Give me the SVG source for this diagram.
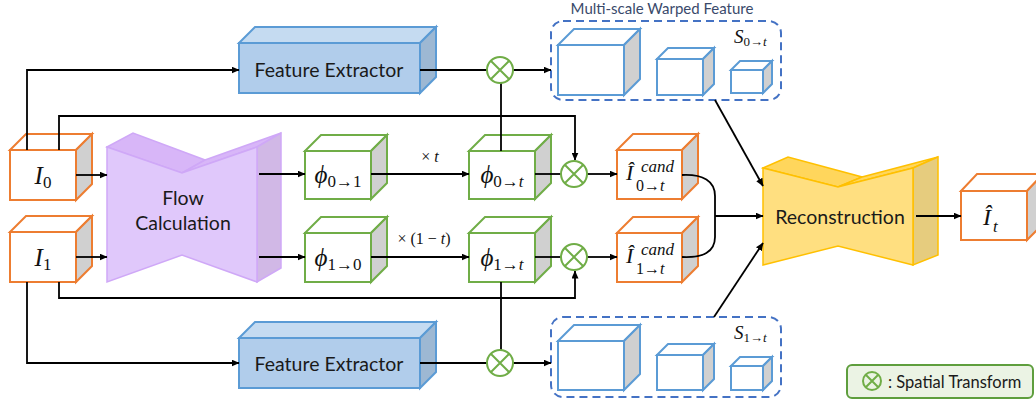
<svg xmlns="http://www.w3.org/2000/svg" width="1036" height="404" viewBox="0 0 1036 404">
  <defs>
    <marker id="arr" markerWidth="8" markerHeight="7" refX="7.5" refY="3.5" orient="auto" markerUnits="userSpaceOnUse">
      <path d="M0,0 L8,3.5 L0,7 Z" fill="#000"/>
    </marker>
    <style>
      .front{fill:#fff;stroke-width:2;stroke-linejoin:miter}
      .side{fill:#d0d0d0;stroke-width:2}
      .top{fill:#fff;stroke-width:2}
      .org{stroke:#ed7d31}
      .grn{stroke:#70ad47}
      .blu{stroke:#5b9bd5}
      .fe-front{fill:#b1cdeb;stroke:#5b9bd5;stroke-width:2}
      .fe-top{fill:#c5dbf1;stroke:#5b9bd5;stroke-width:2}
      .fe-side{fill:#9db8d3;stroke:#5b9bd5;stroke-width:2}
      .fl-front{fill:#e0c8fb;stroke:#cfa8f7;stroke-width:1.5}
      .fl-top{fill:#d8b6f8;stroke:#cfa8f7;stroke-width:1.5}
      .fl-side{fill:#d1b8e6;stroke:#cfa8f7;stroke-width:1.5}
      .rc-front{fill:#ffdf80;stroke:#ffc000;stroke-width:1.5}
      .rc-top{fill:#ffd65c;stroke:#ffc000;stroke-width:1.5}
      .rc-side{fill:#e6cc7e;stroke:#ffc000;stroke-width:1.5}
      .lbl{font-family:Lato,"Liberation Sans",sans-serif;font-size:19.5px;fill:#1a1a1a;text-anchor:middle}
      .math{font-family:"Liberation Serif","DejaVu Serif",serif;fill:#111}
      .it{font-style:italic}
      .conn{fill:none;stroke:#000;stroke-width:1.8}
      .dash{fill:none;stroke:#4472c4;stroke-width:2;stroke-dasharray:8 5}
      .otc{fill:#fff;stroke:#70ad47;stroke-width:2}
      .otx{stroke:#70ad47;stroke-width:2}
    </style>
  </defs>

  <!-- input frames -->
  <g id="I0">
    <polygon class="top org" points="10,150 26,134 92,134 76,150"/>
    <polygon class="side org" points="76,150 92,134 92,184 76,200"/>
    <rect class="front org" x="10" y="150" width="66" height="50"/>
    <text class="math" x="43" y="184" text-anchor="middle"><tspan class="it" font-size="25">I</tspan><tspan font-size="17" dy="4">0</tspan></text>
  </g>
  <g id="I1">
    <polygon class="top org" points="10,232 26,216 92,216 76,232"/>
    <polygon class="side org" points="76,232 92,216 92,266 76,282"/>
    <rect class="front org" x="10" y="232" width="66" height="50"/>
    <text class="math" x="43" y="266" text-anchor="middle"><tspan class="it" font-size="25">I</tspan><tspan font-size="17" dy="4">1</tspan></text>
  </g>

  <!-- feature extractors -->
  <g id="fe-top">
    <polygon class="fe-top" points="239,43 255,27 436,27 420,43"/>
    <polygon class="fe-side" points="420,43 436,27 436,77 420,93"/>
    <rect class="fe-front" x="239" y="43" width="181" height="50"/>
    <text class="lbl" x="329" y="77">Feature Extractor</text>
  </g>
  <g id="fe-bottom">
    <polygon class="fe-top" points="239,338 255,322 436,322 420,338"/>
    <polygon class="fe-side" points="420,338 436,322 436,372 420,388"/>
    <rect class="fe-front" x="239" y="338" width="181" height="50"/>
    <text class="lbl" x="329" y="371">Feature Extractor</text>
  </g>

  <!-- flow estimation network -->
  <g id="flow">
    <polygon class="fl-top" points="107,147 133,133 205,160 182,173"/>
    <polygon class="fl-top" points="182,173 205,160 281,133 257,147"/>
    <polygon class="fl-side" points="257,147 281,133 281,268 257,282"/>
    <polygon class="fl-front" points="107,147 182,173 257,147 257,282 182,255 107,282"/>
    <text class="lbl" x="183" y="205">Flow</text>
    <text class="lbl" x="183" y="230">Calculation</text>
  </g>

  <!-- optical flows -->
  <g id="phi01">
    <polygon class="top grn" points="305,151 321,135 387,135 371,151"/>
    <polygon class="side grn" points="371,151 387,135 387,183 371,199"/>
    <rect class="front grn" x="305" y="151" width="66" height="48"/>
    <text class="math" x="338" y="183" text-anchor="middle"><tspan class="it" font-size="25">ϕ</tspan><tspan font-size="17" dy="4">0→1</tspan></text>
  </g>
  <g id="phi0t">
    <polygon class="top grn" points="469,151 485,135 551,135 535,151"/>
    <polygon class="side grn" points="535,151 551,135 551,183 535,199"/>
    <rect class="front grn" x="469" y="151" width="66" height="48"/>
    <text class="math" x="502" y="183" text-anchor="middle"><tspan class="it" font-size="25">ϕ</tspan><tspan font-size="17" dy="4">0→</tspan><tspan class="it" font-size="17">t</tspan></text>
  </g>
  <g id="phi10">
    <polygon class="top grn" points="305,233 321,217 387,217 371,233"/>
    <polygon class="side grn" points="371,233 387,217 387,266 371,282"/>
    <rect class="front grn" x="305" y="233" width="66" height="49"/>
    <text class="math" x="338" y="266" text-anchor="middle"><tspan class="it" font-size="25">ϕ</tspan><tspan font-size="17" dy="4">1→0</tspan></text>
  </g>
  <g id="phi1t">
    <polygon class="top grn" points="469,233 485,217 551,217 535,233"/>
    <polygon class="side grn" points="535,233 551,217 551,266 535,282"/>
    <rect class="front grn" x="469" y="233" width="66" height="49"/>
    <text class="math" x="502" y="266" text-anchor="middle"><tspan class="it" font-size="25">ϕ</tspan><tspan font-size="17" dy="4">1→</tspan><tspan class="it" font-size="17">t</tspan></text>
  </g>

  <!-- candidate frames -->
  <g id="cand0">
    <polygon class="top org" points="617,150 633,134 698,134 682,150"/>
    <polygon class="side org" points="682,150 698,134 698,183 682,199"/>
    <rect class="front org" x="617" y="150" width="65" height="49"/>
    <text class="math it" x="626" y="180" font-size="22">Î</text>
    <text class="math it" x="641" y="172" font-size="17">cand</text>
    <text class="math" x="636" y="191" font-size="16">0→<tspan class="it">t</tspan></text>
  </g>
  <g id="cand1">
    <polygon class="top org" points="617,233 633,217 698,217 682,233"/>
    <polygon class="side org" points="682,233 698,217 698,266 682,282"/>
    <rect class="front org" x="617" y="233" width="65" height="49"/>
    <text class="math it" x="626" y="263" font-size="22">Î</text>
    <text class="math it" x="641" y="255" font-size="17">cand</text>
    <text class="math" x="636" y="274" font-size="16">1→<tspan class="it">t</tspan></text>
  </g>

  <!-- multi-scale warped features -->
  <g id="ms-top">
    <text x="662" y="14" font-family="Lato,'Liberation Sans',sans-serif" font-size="15" fill="#3a4a6b" text-anchor="middle">Multi-scale Warped Feature</text>
    <rect class="dash" x="551" y="21" width="230" height="79" rx="12"/>
    <polygon class="top blu" points="558,45 574,29 640,29 624,45"/>
    <polygon class="side blu" points="624,45 640,29 640,79 624,95"/>
    <rect class="front blu" x="558" y="45" width="66" height="50"/>
    <polygon class="top blu" points="657,59 668,48 714,48 703,59"/>
    <polygon class="side blu" points="703,59 714,48 714,84 703,95"/>
    <rect class="front blu" x="657" y="59" width="46" height="36"/>
    <polygon class="top blu" points="731,70 740,61 772,61 763,70"/>
    <polygon class="side blu" points="763,70 772,61 772,84 763,93"/>
    <rect class="front blu" x="731" y="70" width="32" height="23"/>
    <text class="math" x="734" y="43" font-size="19" fill="#333"><tspan class="it">S</tspan><tspan font-size="13" dy="3">0→</tspan><tspan class="it" font-size="13">t</tspan></text>
  </g>
  <g id="ms-bottom">
    <rect class="dash" x="551" y="317" width="230" height="80" rx="12"/>
    <polygon class="top blu" points="558,341 574,325 640,325 624,341"/>
    <polygon class="side blu" points="624,341 640,325 640,374 624,390"/>
    <rect class="front blu" x="558" y="341" width="66" height="49"/>
    <polygon class="top blu" points="657,355 668,344 714,344 703,355"/>
    <polygon class="side blu" points="703,355 714,344 714,379 703,390"/>
    <rect class="front blu" x="657" y="355" width="46" height="35"/>
    <polygon class="top blu" points="731,366 740,357 772,357 763,366"/>
    <polygon class="side blu" points="763,366 772,357 772,381 763,390"/>
    <rect class="front blu" x="731" y="366" width="32" height="24"/>
    <text class="math" x="734" y="339" font-size="19" fill="#333"><tspan class="it">S</tspan><tspan font-size="13" dy="3">1→</tspan><tspan class="it" font-size="13">t</tspan></text>
  </g>

  <!-- reconstruction network -->
  <g id="recon">
    <polygon class="rc-top" points="763,168 788,157 862,177 838,187"/>
    <polygon class="rc-top" points="838,187 862,177 938,157 913,168"/>
    <polygon class="rc-side" points="913,168 938,157 938,255 913,265"/>
    <polygon class="rc-front" points="763,168 838,187 913,168 913,265 838,246 763,265"/>
    <text class="lbl" x="840" y="224">Reconstruction</text>
  </g>

  <!-- output frame -->
  <g id="It">
    <polygon class="top org" points="961,191 977,174 1043,174 1027,191"/>
    <polygon class="side org" points="1027,191 1043,174 1043,224 1027,240"/>
    <rect class="front org" x="961" y="191" width="66" height="49"/>
    <text class="math it" x="983" y="225" font-size="24">Î</text>
    <text class="math it" x="993" y="232" font-size="17">t</text>
  </g>

  <!-- connectors -->
  <g id="connectors">
    <polyline class="conn" points="27,150 27,70 239,70" marker-end="url(#arr)"/>
    <polyline class="conn" points="59,150 59,116 575,116 575,160" marker-end="url(#arr)"/>
    <polyline class="conn" points="27,282 27,363 239,363" marker-end="url(#arr)"/>
    <polyline class="conn" points="59,282 59,298 575,298 575,271" marker-end="url(#arr)"/>
    <line class="conn" x1="76" y1="175" x2="107" y2="175" marker-end="url(#arr)"/>
    <line class="conn" x1="76" y1="257" x2="107" y2="257" marker-end="url(#arr)"/>
    <line class="conn" x1="259" y1="174" x2="305" y2="174" marker-end="url(#arr)"/>
    <line class="conn" x1="259" y1="257" x2="305" y2="257" marker-end="url(#arr)"/>
    <line class="conn" x1="371" y1="174" x2="469" y2="174" marker-end="url(#arr)"/>
    <line class="conn" x1="371" y1="257" x2="469" y2="257" marker-end="url(#arr)"/>
    <line class="conn" x1="535" y1="174" x2="561" y2="174"/>
    <line class="conn" x1="535" y1="257" x2="561" y2="257"/>
    <line class="conn" x1="587" y1="174" x2="617" y2="174" marker-end="url(#arr)"/>
    <line class="conn" x1="587" y1="257" x2="617" y2="257" marker-end="url(#arr)"/>
    <line class="conn" x1="420" y1="70" x2="487" y2="70"/>
    <line class="conn" x1="420" y1="363" x2="487" y2="363"/>
    <line class="conn" x1="513" y1="70" x2="551" y2="70" marker-end="url(#arr)"/>
    <line class="conn" x1="513" y1="363" x2="551" y2="363" marker-end="url(#arr)"/>
    <line class="conn" x1="501" y1="151" x2="501" y2="83"/>
    <line class="conn" x1="501" y1="282" x2="501" y2="350"/>
    <path class="conn" d="M682,175 C703,174 715,181 715,196 V237 C715,252 703,258 682,257"/>
    <line class="conn" x1="715" y1="216" x2="763" y2="216" marker-end="url(#arr)"/>
    <line class="conn" x1="715" y1="100" x2="763" y2="186" marker-end="url(#arr)"/>
    <line class="conn" x1="714" y1="317" x2="763" y2="243" marker-end="url(#arr)"/>
    <line class="conn" x1="916" y1="216" x2="961" y2="216" marker-end="url(#arr)"/>
    <text x="430" y="162" font-family="'Liberation Serif',serif" font-size="16" fill="#111" text-anchor="middle">× <tspan font-style="italic">t</tspan></text>
    <text x="424" y="244" font-family="'Liberation Serif',serif" font-size="16" fill="#111" text-anchor="middle">× (1 − <tspan font-style="italic">t</tspan>)</text>
  </g>

  <!-- spatial transform operators -->
  <g id="st-fe0">
    <circle class="otc" cx="500" cy="70" r="13"/>
    <path class="otx" d="M491,61 L509,79 M509,61 L491,79"/>
  </g>
  <g id="st-fe1">
    <circle class="otc" cx="500" cy="363" r="13"/>
    <path class="otx" d="M491,354 L509,372 M509,354 L491,372"/>
  </g>
  <g id="st-img0">
    <circle class="otc" cx="574" cy="174" r="13"/>
    <path class="otx" d="M565,165 L583,183 M583,165 L565,183"/>
  </g>
  <g id="st-img1">
    <circle class="otc" cx="574" cy="257" r="13"/>
    <path class="otx" d="M565,248 L583,266 M583,248 L565,266"/>
  </g>

  <!-- legend -->
  <g id="legend">
    <rect x="847" y="365" width="186" height="33" rx="5" fill="#ebf3e4" stroke="#5e9e3d" stroke-width="2"/>
    <circle cx="872" cy="381" r="9" fill="none" stroke="#70ad47" stroke-width="2"/>
    <path class="otx" d="M866,375 L878,387 M878,375 L866,387"/>
    <text x="888" y="388" font-family="Lato,'Liberation Sans',sans-serif" font-size="16.5" fill="#1a1a1a">: Spatial Transform</text>
  </g>
</svg>
